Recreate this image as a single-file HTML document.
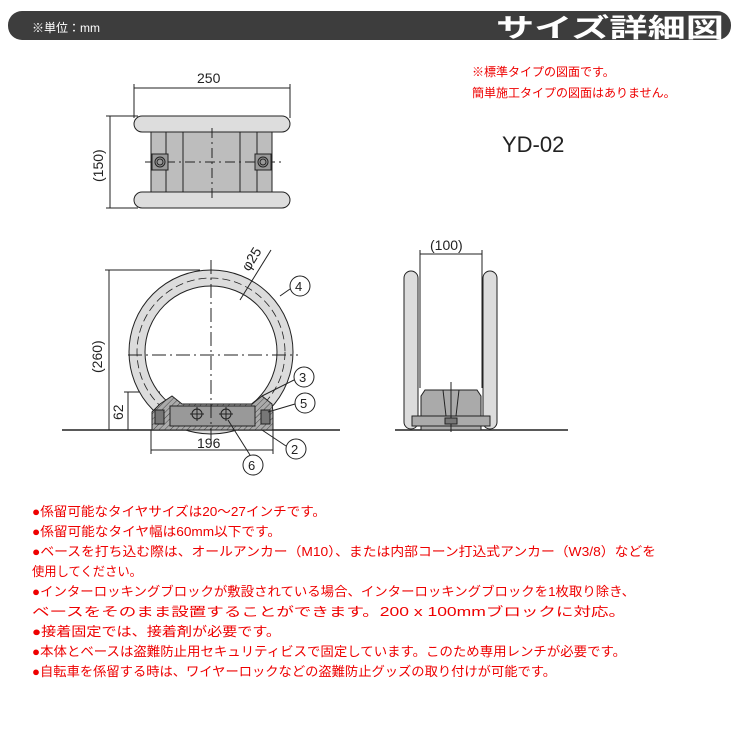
<!DOCTYPE html>
<html><head><meta charset="utf-8"><style>
html,body{margin:0;padding:0;background:#fff}
svg{display:block}
text{font-family:"Liberation Sans","Noto Sans CJK JP",sans-serif}
</style></head><body>
<svg width="740" height="740" viewBox="0 0 740 740" xmlns="http://www.w3.org/2000/svg">
<defs>
<pattern id="h" width="4" height="4" patternUnits="userSpaceOnUse" patternTransform="rotate(45)"><rect width="4" height="4" fill="#aaa"/><line x1="0" y1="0" x2="0" y2="4" stroke="#444" stroke-width="1"/></pattern>
</defs>
<rect x="8" y="11" width="723" height="29" rx="14" fill="#3d3d3d"/>
<text x="32" y="32" font-size="12" fill="#fff">※単位：mm</text>
<text x="496" y="37" font-size="26" font-weight="bold" fill="#fff" textLength="228" lengthAdjust="spacingAndGlyphs">サイズ詳細図</text>

<text x="472" y="76" font-size="12" fill="#e00">※標準タイプの図面です。</text>
<text x="472" y="97" font-size="12" fill="#e00">簡単施工タイプの図面はありません。</text>
<text x="502" y="152" font-size="22" fill="#222">YD-02</text>

<g stroke="#222" stroke-width="1" fill="none">
<line x1="134" y1="88" x2="290" y2="88"/><line x1="134" y1="84" x2="134" y2="118"/><line x1="290" y1="84" x2="290" y2="118"/>
<line x1="110" y1="116" x2="110" y2="208"/><line x1="106" y1="116" x2="138" y2="116"/><line x1="106" y1="208" x2="138" y2="208"/>
<rect x="151" y="131" width="121" height="62" fill="#bdbdbd"/>
<line x1="166" y1="131" x2="166" y2="193"/><line x1="183" y1="131" x2="183" y2="193"/><line x1="240" y1="131" x2="240" y2="193"/><line x1="257" y1="131" x2="257" y2="193"/>
<rect x="134" y="116" width="156" height="16" rx="8" fill="#ddd"/>
<rect x="134" y="192" width="156" height="16" rx="8" fill="#ddd"/>
<line x1="145" y1="162" x2="285" y2="162" stroke-dasharray="10,4,2,4"/>
<line x1="212" y1="128" x2="212" y2="200" stroke-dasharray="10,4,2,4"/>
<rect x="152" y="154" width="16" height="16" fill="#999"/><circle cx="160" cy="162" r="5"/><circle cx="160" cy="162" r="3"/>
<rect x="255" y="154" width="16" height="16" fill="#999"/><circle cx="263" cy="162" r="5"/><circle cx="263" cy="162" r="3"/>

<line x1="62" y1="430" x2="340" y2="430" stroke-width="1.5"/>
<line x1="109" y1="270" x2="109" y2="430"/><line x1="105" y1="270" x2="200" y2="270"/>
<line x1="128" y1="392" x2="128" y2="430"/><line x1="124" y1="392" x2="160" y2="392"/>
<line x1="151" y1="430" x2="151" y2="454"/><line x1="273" y1="430" x2="273" y2="454"/><line x1="151" y1="450" x2="273" y2="450"/>
<circle cx="211" cy="352" r="74" stroke="#dcdcdc" stroke-width="16"/>
<circle cx="211" cy="352" r="82"/>
<circle cx="211" cy="352" r="66"/>
<circle cx="211" cy="352" r="74" stroke-dasharray="8,4" stroke-width="0.8"/>
<path d="M152 430 L152 412 L160 404 L172 396 L182 404 L252 404 L262 396 L272 404 L273 412 L273 430 Z" fill="url(#h)"/>
<rect x="170" y="406" width="85" height="20" fill="#999"/>
<circle cx="197" cy="414" r="5"/><line x1="190" y1="414" x2="204" y2="414"/><line x1="197" y1="407" x2="197" y2="421"/>
<circle cx="226" cy="414" r="5"/><line x1="219" y1="414" x2="233" y2="414"/><line x1="226" y1="407" x2="226" y2="421"/>
<rect x="155" y="410" width="9" height="14" fill="#777"/><rect x="261" y="410" width="9" height="14" fill="#777"/>
<line x1="128" y1="355" x2="298" y2="355" stroke-dasharray="14,4,2,4"/>
<line x1="211" y1="260" x2="211" y2="440" stroke-dasharray="14,4,2,4"/>
<line x1="240" y1="300" x2="271" y2="250"/>
<circle cx="300" cy="286" r="10"/><line x1="290" y1="289" x2="280" y2="296"/>
<circle cx="304" cy="377" r="10"/><line x1="294" y1="380" x2="262" y2="396"/>
<circle cx="305" cy="403" r="10"/><line x1="295" y1="404" x2="268" y2="412"/>
<circle cx="296" cy="449" r="10"/><line x1="286" y1="446" x2="262" y2="430"/>
<circle cx="253" cy="465" r="10"/><line x1="250" y1="455" x2="228" y2="420"/>

<line x1="395" y1="430" x2="568" y2="430" stroke-width="1.5"/>
<line x1="420" y1="254" x2="482" y2="254"/><line x1="420" y1="250" x2="420" y2="388"/><line x1="482" y1="250" x2="482" y2="388"/>
<rect x="404" y="271" width="14" height="158" rx="7" fill="#dcdcdc"/>
<rect x="483" y="271" width="14" height="158" rx="7" fill="#dcdcdc"/>
<path d="M421 418 L421 396 L425 390 L477 390 L481 396 L481 418 Z" fill="#aaa"/>
<rect x="412" y="416" width="78" height="10" fill="#aaa"/>
<rect x="421" y="426" width="60" height="4" fill="#aaa"/>
<line x1="443" y1="390" x2="446" y2="416"/><line x1="459" y1="390" x2="456" y2="416"/>
<line x1="451" y1="382" x2="451" y2="432"/>
<rect x="445" y="418" width="12" height="6" fill="#777"/>
</g>
<g font-size="14" fill="#222">
<text x="197" y="83">250</text>
<text x="0" y="0" transform="translate(103,182) rotate(-90)">(150)</text>
<text x="0" y="0" transform="translate(102,373) rotate(-90)">(260)</text>
<text x="0" y="0" transform="translate(123,420) rotate(-90)">62</text>
<text x="197" y="448">196</text>
<text x="430" y="250">(100)</text>
<text x="0" y="0" transform="translate(249,272) rotate(-58)">φ25</text>
<text x="295" y="291" font-size="13">4</text>
<text x="299" y="382" font-size="13">3</text>
<text x="300" y="408" font-size="13">5</text>
<text x="291" y="454" font-size="13">2</text>
<text x="248" y="470" font-size="13">6</text>
</g>

<g font-size="13" fill="#e00">
<text x="32" y="516" textLength="294" lengthAdjust="spacingAndGlyphs">●係留可能なタイヤサイズは20～27インチです。</text>
<text x="32" y="536" textLength="249" lengthAdjust="spacingAndGlyphs">●係留可能なタイヤ幅は60mm以下です。</text>
<text x="32" y="556" textLength="624" lengthAdjust="spacingAndGlyphs">●ベースを打ち込む際は、オールアンカー（M10）、または内部コーン打込式アンカー（W3/8）などを</text>
<text x="32" y="576" textLength="110" lengthAdjust="spacingAndGlyphs">使用してください。</text>
<text x="32" y="596" textLength="603" lengthAdjust="spacingAndGlyphs">●インターロッキングブロックが敷設されている場合、インターロッキングブロックを1枚取り除き、</text>
<text x="32" y="616" textLength="594" lengthAdjust="spacingAndGlyphs" font-size="12.5">ベースをそのまま設置することができます。200 x 100mmブロックに対応。</text>
<text x="32" y="636" textLength="249" lengthAdjust="spacingAndGlyphs">●接着固定では、接着剤が必要です。</text>
<text x="32" y="656" textLength="594" lengthAdjust="spacingAndGlyphs">●本体とベースは盗難防止用セキュリティビスで固定しています。このため専用レンチが必要です。</text>
<text x="32" y="676" textLength="524" lengthAdjust="spacingAndGlyphs">●自転車を係留する時は、ワイヤーロックなどの盗難防止グッズの取り付けが可能です。</text>
</g>
</svg>
</body></html>
